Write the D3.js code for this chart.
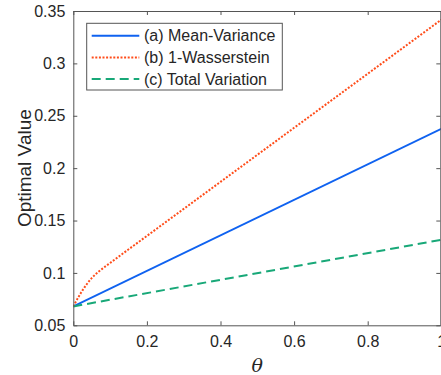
<!DOCTYPE html>
<html><head><meta charset="utf-8">
<script src="https://cdn.jsdelivr.net/npm/d3@7"></script>
<style>body{margin:0;background:#fff}svg{display:block}text{font-family:Arial,"Liberation Sans",sans-serif;fill:#262626}</style>
</head><body><svg id="c" width="441" height="375"></svg>
<script>
const xTicks = [0, 0.2, 0.4, 0.6, 0.8, 1];
const yTicks = [0.05, 0.1, 0.15, 0.2, 0.25, 0.3, 0.35];
const thetaMV = [0, 1];
const meanVariance = [0.068, 0.2375];
const thetaW = [0, 0.01, 0.02, 0.03, 0.04, 0.05, 0.06, 0.07, 0.08, 0.1, 0.2, 0.3, 0.4, 0.5, 0.6, 0.7, 0.8, 0.9, 1.0];
const wasserstein = [0.068, 0.0745, 0.0805, 0.0860, 0.0908, 0.0950, 0.0986, 0.1016, 0.1043, 0.1095, 0.1353, 0.1611, 0.1869, 0.2127, 0.2385, 0.2643, 0.2901, 0.3159, 0.3417];
const thetaTV = [0, 1];
const totalVariation = [0.068, 0.1316];
const seriesNames = ["(a) Mean-Variance", "(b) 1-Wasserstein", "(c) Total Variation"];

const svg = d3.select("#c");
const L = 73.3, R = 441.3, T = 11, B = 325.3;
const x = d3.scaleLinear().domain([0, 1]).range([L, R]);
const y = d3.scaleLinear().domain([0.05, 0.35]).range([B, T]);
const axisCol = "#555";

const series = [
  {t: thetaMV, v: meanVariance, color: "#0f62f0", dash: null},
  {t: thetaW, v: wasserstein, color: "#ff4d1a", dash: "2,1.6"},
  {t: thetaTV, v: totalVariation, color: "#18a878", dash: "9,5"}
];

svg.append("clipPath").attr("id","pc").append("rect")
  .attr("x", L).attr("y", T).attr("width", R - L).attr("height", B - T);

const line = d3.line().x(d => x(d[0])).y(d => y(d[1])).curve(d3.curveMonotoneX);
series.forEach(s => {
  svg.append("path")
    .attr("d", line(s.t.map((t, i) => [t, s.v[i]])))
    .attr("fill", "none").attr("stroke", s.color).attr("stroke-width", 2)
    .attr("stroke-dasharray", s.dash)
    .attr("clip-path", "url(#pc)");
});

// axes
const gx = svg.append("g").attr("transform", `translate(0,${B})`)
  .call(d3.axisBottom(x).tickValues(xTicks).tickFormat(d3.format("")).tickSizeInner(-4).tickSizeOuter(0).tickPadding(10));
const gxt = svg.append("g").attr("transform", `translate(0,${T})`)
  .call(d3.axisTop(x).tickValues(xTicks).tickFormat("").tickSizeInner(-4).tickSizeOuter(0));
const gy = svg.append("g").attr("transform", `translate(${L},0)`)
  .call(d3.axisLeft(y).tickValues(yTicks).tickFormat(d3.format("")).tickSizeInner(-4).tickSizeOuter(0).tickPadding(8));
const gyr = svg.append("g").attr("transform", `translate(${R - 1},0)`)
  .call(d3.axisRight(y).tickValues(yTicks).tickFormat("").tickSizeInner(-4).tickSizeOuter(0));
[gx, gxt, gy, gyr].forEach(g => {
  g.selectAll("path").attr("stroke", axisCol).attr("stroke-width", 1);
  g.selectAll("line").attr("stroke", axisCol);
  g.selectAll("text").attr("font-size", 16).attr("fill", "#262626")
    .attr("font-family", "Arial, 'Liberation Sans', sans-serif");
});

// axis labels
svg.append("text").attr("transform", `translate(31,${(T + B) / 2}) rotate(-90)`)
  .attr("text-anchor", "middle").attr("font-size", 19).text("Optimal Value");
svg.append("text").attr("x", (L + R) / 2).attr("y", 372)
  .attr("text-anchor", "middle").attr("font-size", 19).attr("font-style", "italic")
  .style("font-family", "'DejaVu Serif', 'Liberation Serif', serif").text("θ");

// legend
const lg = svg.append("g");
lg.append("rect").attr("x", 86.7).attr("y", 23.3).attr("width", 195.6).attr("height", 66.7)
  .attr("fill", "#fff").attr("stroke", axisCol).attr("stroke-width", 1);
const rowsY = [35.7, 57.5, 79];
series.forEach((s, i) => {
  lg.append("line").attr("x1", 91.7).attr("x2", 139.3).attr("y1", rowsY[i]).attr("y2", rowsY[i])
    .attr("stroke", s.color).attr("stroke-width", 2).attr("stroke-dasharray", s.dash);
  lg.append("text").attr("x", 144).attr("y", rowsY[i]).attr("dy", "0.35em")
    .attr("font-size", 16).text(seriesNames[i]);
});
</script></body></html>
